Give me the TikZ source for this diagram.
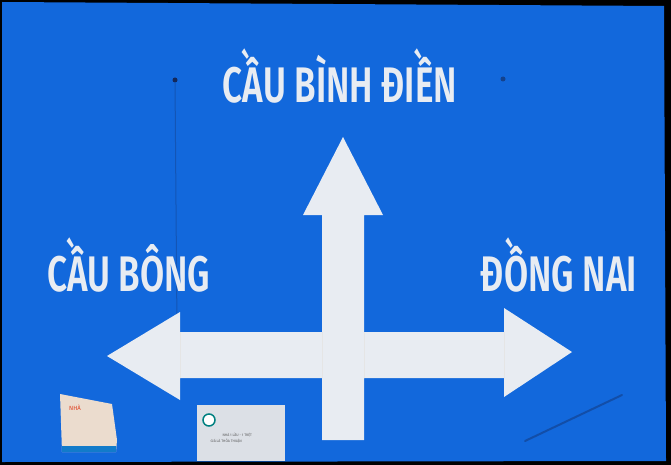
\documentclass[tikz,border=0pt]{standalone}
\usepackage{fontspec}
\setmainfont{Fira Sans}[BoldFont={Fira Sans SemiBold}]
\definecolor{signBlue}{RGB}{18,104,220}
\definecolor{signWhite}{RGB}{232,236,242}
\definecolor{boltDark}{RGB}{20,40,90}
\tikzstyle{placeName}=[text=signWhite, inner sep=0pt, font=\fontsize{50}{50}\selectfont\bfseries]
\tikzstyle{seamLine}=[draw=gray!20, line width=0.5pt]
\tikzstyle{boltDot}=[fill=boltDark, circle, minimum size=5pt, inner sep=0pt]

\begin{document}
\begin{tikzpicture}[x=1pt, y=-1pt]
	\useasboundingbox (0,0) rectangle (671,465);
	\fill[black] (0,0) rectangle (671,465);
	\fill[signBlue] (2,2) -- (664,6) -- (666,461) -- (2,462) -- cycle;
	
	% bolts
	\node[boltDot] (b1) at (175,80) {};
	\node[boltDot, fill=boltDark!60!signBlue] (b2) at (503,79) {};
	\draw[boltDark!30!signBlue, line width=1pt] (b1) -- (177,330);
	
	% arrows
	\fill[signWhite] (343,137) -- (383,215) -- (364,215) -- (364,332) -- (504,332)
		-- (504,308) -- (572,352) -- (504,397) -- (504,378) -- (364,378) -- (364,440)
		-- (322,440) -- (322,378) -- (180,378) -- (180,400) -- (107,356) -- (180,312)
		-- (180,332) -- (322,332) -- (322,215) -- (303,215) -- cycle;
	\draw[seamLine] (322,332) -- (322,378) (364,332) -- (364,378) (504,332) -- (504,378);
	\draw[seamLine] (180,332) -- (180,378);
	
	% place names
	\node[placeName, anchor=base] (n1) at (340,103) {\scalebox{0.7}[1]{CẦU BÌNH ĐIỀN}};
	\node[placeName, anchor=base west] (n2) at (47,291) {\scalebox{0.7}[1]{CẦU BÔNG}};
	\node[placeName, anchor=base east] (n3) at (637,291) {\scalebox{0.7}[1]{ĐỒNG NAI}};
	
	% stickers
	\fill[signWhite!85!orange] (60,394) -- (112,404) -- (117,440) -- (116,452) -- (62,452) -- cycle;
	\fill[cyan!60!blue] (62,446) rectangle (116,452);
	\node[text=red!50!brown, font=\fontsize{6}{6}\selectfont] (s1) at (75,408) {NHÀ};
	\fill[signWhite!95!black] (197,405) rectangle (285,461);
	\node[draw=teal, fill=white, line width=1.5pt, circle, minimum size=12pt, inner sep=0pt] (logo) at (209,420) {};
	\node[text=gray!70!black, font=\fontsize{3.5}{4}\selectfont, align=left, anchor=west] (s2) at (207,438) {\hspace*{12pt}NHÀ 1 LẦU - 1 TRỆT\\GIÁ LÀ THỎA THUẬN};
	
	% scratch
	\draw[boltDark, opacity=0.4, line width=2pt, line cap=round] (525,441) -- (622,395);
\end{tikzpicture}
\end{document}
